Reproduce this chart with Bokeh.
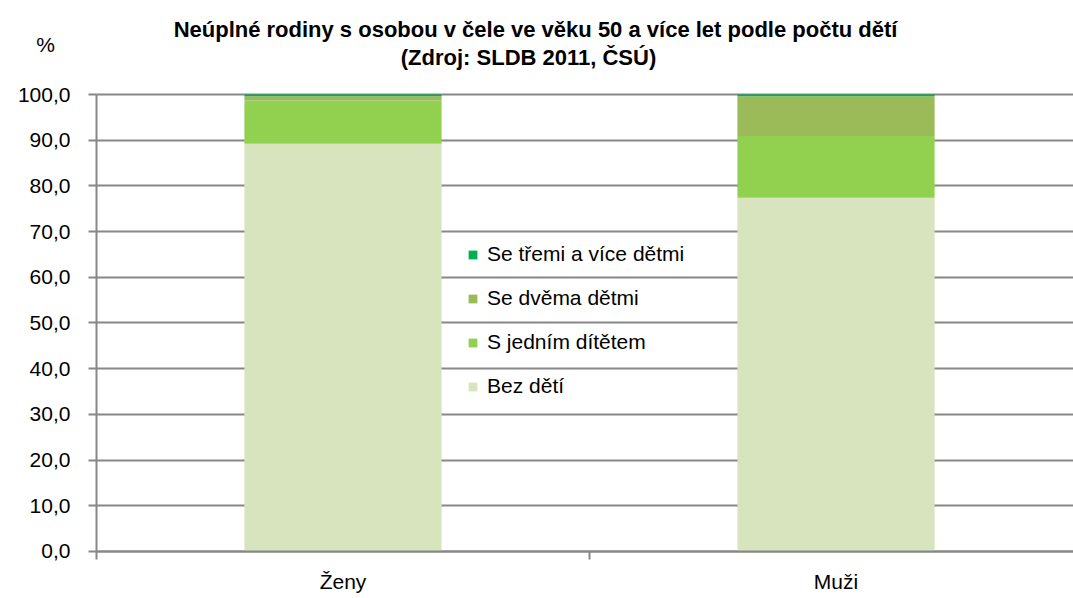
from bokeh.plotting import figure
from bokeh.models import (Range1d, FixedTicker, Legend, LegendItem, Label, ColumnDataSource)
from bokeh.embed import file_html
from bokeh.resources import INLINE

categories = ["Ženy", "Muži"]
series = ["Bez dětí", "S jedním dítětem", "Se dvěma dětmi", "Se třemi a více dětmi"]
bez_deti = [89.2, 77.4]
s_jednim = [9.5, 13.5]
se_dvema = [0.9, 8.7]
se_tremi = [0.4, 0.4]
colors = ["#D7E4BD", "#92D050", "#9BBB59", "#00B050"]
y_ticks = [0, 10, 20, 30, 40, 50, 60, 70, 80, 90, 100]
title_lines = ["Neúplné rodiny s osobou v čele ve věku 50 a více let podle počtu dětí",
               "(Zdroj: SLDB 2011, ČSÚ)"]
unit_label = "%"

FONT = "Liberation Sans"
GRID = "#878787"

n = len(categories)
xpos = [i + 0.5 for i in range(n)]
source = ColumnDataSource(dict(x=xpos, s0=bez_deti, s1=s_jednim, s2=se_dvema, s3=se_tremi))

# The frame fills the whole canvas; the axes sit at fixed positions inside it,
# leaving room on the left / top / bottom for labels and titles.
X0, X1 = -0.1947, 1.9817
Y0, Y1 = -9.85, 120.57
p = figure(x_range=Range1d(X0, X1), y_range=Range1d(Y0, Y1),
           width=1073, height=596, output_backend="svg", toolbar_location=None,
           min_border=0)
p.title.text = ""
p.outline_line_color = None
p.background_fill_color = "white"
p.border_fill_color = "white"

renderers = p.vbar_stack(["s0", "s1", "s2", "s3"], x="x", width=0.40, source=source,
                         color=colors, line_color=None)

# y axis
ya = p.yaxis[0]
ya.fixed_location = 0
ya.bounds = (y_ticks[0], y_ticks[-1])
ya.ticker = FixedTicker(ticks=y_ticks)
ya.major_label_overrides = {t: f"{t:.1f}".replace(".", ",") for t in y_ticks}
ya.major_label_text_font = FONT
ya.major_label_text_font_size = "21px"
ya.major_label_text_color = "black"
ya.axis_line_color = GRID
ya.axis_line_width = 2
ya.major_tick_line_color = GRID
ya.major_tick_line_width = 2
ya.major_tick_out = 8
ya.major_tick_in = 0
ya.minor_tick_line_color = None
ya.major_label_standoff = 18

# x axis: labels at category centres, ticks at category boundaries
xa = p.xaxis[0]
xa.fixed_location = 0
xa.bounds = (0, X1)
xa.ticker = FixedTicker(ticks=xpos, minor_ticks=list(range(n)))
xa.major_label_overrides = {x: c for x, c in zip(xpos, categories)}
xa.major_tick_line_color = None
xa.major_tick_out = 0
xa.major_tick_in = 0
xa.minor_tick_line_color = GRID
xa.minor_tick_line_width = 2
xa.minor_tick_in = 0
xa.minor_tick_out = 8
xa.axis_line_color = GRID
xa.axis_line_width = 2
xa.major_label_text_font = FONT
xa.major_label_text_font_size = "21px"
xa.major_label_text_color = "black"
xa.major_label_standoff = 11

p.xgrid.grid_line_color = None
p.ygrid.grid_line_color = GRID
p.ygrid.grid_line_width = 2
p.ygrid.cross_bounds = (0, X1)

# legend
items = [LegendItem(label=series[i], renderers=[renderers[i]]) for i in [3, 2, 1, 0]]
legend = Legend(items=items, location=(467, 198), orientation="vertical",
                background_fill_alpha=0, border_line_alpha=0,
                glyph_width=11, glyph_height=11, label_height=21, spacing=20,
                padding=0, margin=0, label_standoff=9,
                label_text_font=FONT, label_text_font_size="21px", label_text_color="black")
p.add_layout(legend, "center")

# titles and unit label
p.add_layout(Label(x=0.8905, y=114.2, text=title_lines[0], text_align="center", text_baseline="middle",
                   text_font=FONT, text_font_size="22px", text_font_style="bold", text_color="black"))
p.add_layout(Label(x=0.8763, y=108.1, text=title_lines[1], text_align="center", text_baseline="middle",
                   text_font=FONT, text_font_size="22px", text_font_style="bold", text_color="black"))
p.add_layout(Label(x=-0.1034, y=110.9, text=unit_label, text_align="center", text_baseline="middle",
                   text_font=FONT, text_font_size="21px", text_color="black"))

open("out.html", "w").write(file_html(p, INLINE))
